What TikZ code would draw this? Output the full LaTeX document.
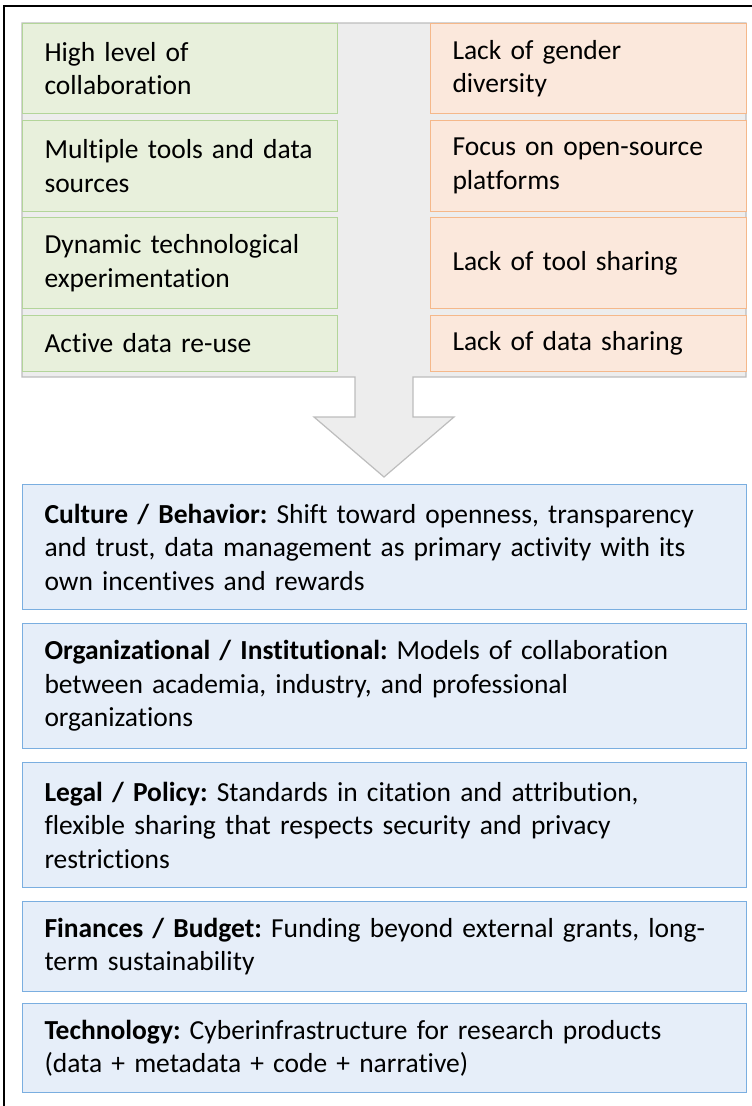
\documentclass[tikz,border=0pt]{standalone}
\usepackage{fontspec}
\setmainfont{Carlito}[Ligatures=NoCommon]
\frenchspacing
\definecolor{goodfill}{HTML}{E8F0DC}
\definecolor{gooddraw}{HTML}{B3D59A}
\definecolor{issuefill}{HTML}{FBE8DC}
\definecolor{issuedraw}{HTML}{F5B88A}
\definecolor{layerfill}{HTML}{E6EEF9}
\definecolor{layerdraw}{HTML}{7AAEE0}
\definecolor{funnelfill}{HTML}{EDEDED}
\definecolor{funneldraw}{HTML}{BDBDBD}
\tikzset{
  cell/.style={anchor=north west,inner xsep=22pt,inner ysep=0pt,align=left,line width=1pt,
    font=\fontsize{27.5}{33.5}\selectfont},
  goodbox/.style={cell,fill=goodfill,draw=gooddraw,text width=271pt,minimum width=315pt},
  issuebox/.style={cell,fill=issuefill,draw=issuedraw,text width=272pt,minimum width=316pt},
  layerbox/.style={cell,fill=layerfill,draw=layerdraw,text width=680pt,minimum width=724pt}
}
\begin{document}
\begin{tikzpicture}[x=1pt,y=-1pt]
  \useasboundingbox (0,0) rectangle (752,1106);
  % frame
  \draw[line width=1.3pt] (752,6) -- (4,6) -- (4,1106);

  % funnel arrow
  \draw[fill=funnelfill,draw=funneldraw,line width=1.2pt] (22,23) -- (746,23) -- (746,377) -- (413,377) -- (413,417)
    -- (454,417) -- (384,477) -- (314,417) -- (355,417) -- (355,377) -- (22,377) -- cycle;

  %left nodes
  \node[goodbox,minimum height=90pt] (g1) at (22,23) {High level of\\collaboration};
  \node[goodbox,minimum height=91pt] (g2) at (22,120) {\mbox{Multiple tools and data}\\sources};
  \node[goodbox,minimum height=91pt] (g3) at (22,217) {Dynamic technological\\experimentation};
  \node[goodbox,minimum height=56pt] (g4) at (22,315) {Active data re-use};

  %right nodes
  \node[issuebox,minimum height=90pt] (o1) at (430,23) {Lack of gender\\diversity};
  \node[issuebox,minimum height=91pt] (o2) at (430,120) {Focus on open-source\\platforms};
  \node[issuebox,minimum height=91pt] (o3) at (430,217) {Lack of tool sharing};
  \node[issuebox,minimum height=56pt] (o4) at (430,315) {Lack of data sharing};

  %bottom nodes
  \node[layerbox,minimum height=125pt] (b1) at (22,484) {\textbf{Culture / Behavior:} Shift toward openness, transparency\\and trust, data management as primary activity with its\\own incentives and rewards};
  \node[layerbox,minimum height=125pt] (b2) at (22,623) {\textbf{Organizational / Institutional:} Models of collaboration\\between academia, industry, and professional\\organizations};
  \node[layerbox,minimum height=125pt] (b3) at (22,762) {\textbf{Legal / Policy:} Standards in citation and attribution,\\flexible sharing that respects security and privacy\\restrictions};
  \node[layerbox,minimum height=90pt] (b4) at (22,901) {\textbf{Finances / Budget:} Funding beyond external grants, long-\\term sustainability};
  \node[layerbox,minimum height=89pt] (b5) at (22,1003) {\textbf{Technology:} Cyberinfrastructure for research products\\(data + metadata + code + narrative)};
\end{tikzpicture}
\end{document}
